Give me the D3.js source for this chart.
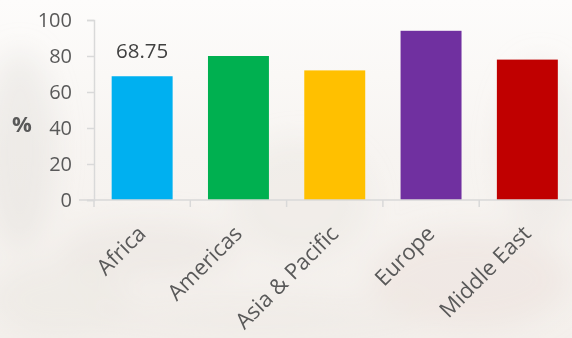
<!DOCTYPE html>
<html>
<head>
<meta charset="utf-8">
<script src="https://cdn.jsdelivr.net/npm/d3@7"></script>
<style>
  html, body { margin: 0; padding: 0; background: #fbfaf9; }
  svg { display: block; }
</style>
</head>
<body>
<svg id="chart" width="572" height="338"></svg>
<script>
// Share of respondents by region (%)
const regions = ["Africa", "Americas", "Asia & Pacific", "Europe", "Middle East"];
const values = [68.75, 80, 72, 94, 78];
const barColors = ["#00b0f0", "#00b050", "#ffc000", "#7030a0", "#c00000"];
const yTicks = [0, 20, 40, 60, 80, 100];
const labelledIndex = 0; // only the first bar carries a value label

const W = 572, H = 338;
const plotLeft = 94, plotRight = 575.5, plotTop = 20, plotBottom = 200;

const svg = d3.select("#chart");

// soft, washed-out backdrop
const defs = svg.append("defs");
defs.append("filter").attr("id", "haze")
  .attr("x", "-50%").attr("y", "-50%").attr("width", "200%").attr("height", "200%")
  .append("feGaussianBlur").attr("stdDeviation", 14);
const bgGrad = defs.append("linearGradient").attr("id", "bgGrad")
  .attr("x1", 0).attr("y1", 0).attr("x2", 0).attr("y2", 1);
bgGrad.append("stop").attr("offset", "0%").attr("stop-color", "#fdfcfb");
bgGrad.append("stop").attr("offset", "45%").attr("stop-color", "#f7f4f1");
bgGrad.append("stop").attr("offset", "100%").attr("stop-color", "#f4f0ec");
svg.append("rect").attr("width", W).attr("height", H).attr("fill", "url(#bgGrad)");

const blobs = [
  [20, 150, 35, 100, "#ddd9d4", 0.35],
  [150, 250, 90, 30, "#e0dbd5", 0.3],
  [300, 200, 70, 60, "#e5e0da", 0.3],
  [470, 280, 100, 50, "#e8dcd6", 0.4],
  [540, 150, 40, 90, "#e4dfd9", 0.3],
  [260, 320, 160, 25, "#ece7e2", 0.45],
  [60, 300, 70, 40, "#e6e2dd", 0.35]
];
const bg = svg.append("g").attr("filter", "url(#haze)");
blobs.forEach(b => {
  bg.append("ellipse").attr("cx", b[0]).attr("cy", b[1]).attr("rx", b[2]).attr("ry", b[3])
    .attr("fill", b[4]).attr("opacity", b[5]);
});

const x = d3.scaleBand().domain(regions).range([plotLeft, plotRight])
  .paddingInner(0.367).paddingOuter(0.1835);
const y = d3.scaleLinear().domain([0, 100]).range([plotBottom, plotTop]);

const font = "'Open Sans', sans-serif";
const axisColor = "#d9d9d9";
const textColor = "#595959";

// y axis
const yAxis = svg.append("g").attr("transform", `translate(${plotLeft},0)`)
  .call(d3.axisLeft(y).tickValues(yTicks).tickSize(7).tickPadding(15));
yAxis.select(".domain").attr("stroke", axisColor).attr("stroke-width", 1.5);
yAxis.selectAll(".tick line").attr("stroke", axisColor).attr("stroke-width", 1.5);
yAxis.selectAll(".tick text").attr("fill", textColor)
  .style("font-family", font).style("font-size", "20px");

// bars
svg.append("g").selectAll("rect").data(values).join("rect")
  .attr("x", (d, i) => x(regions[i]))
  .attr("y", d => y(d))
  .attr("width", x.bandwidth())
  .attr("height", d => y(0) - y(d))
  .attr("fill", (d, i) => barColors[i]);

// x axis line with ticks between categories
const xg = svg.append("g");
xg.append("line").attr("x1", plotLeft - 15).attr("x2", W)
  .attr("y1", plotBottom).attr("y2", plotBottom)
  .attr("stroke", axisColor).attr("stroke-width", 1.5);
const bounds = regions.map((r, i) => plotLeft + i * x.step());
xg.selectAll("line.tk").data(bounds).join("line").attr("class", "tk")
  .attr("x1", d => d).attr("x2", d => d)
  .attr("y1", plotBottom).attr("y2", plotBottom + 7)
  .attr("stroke", axisColor).attr("stroke-width", 1.5);

// rotated category labels
svg.append("g").selectAll("text").data(regions).join("text")
  .attr("transform", d => `translate(${x(d) + x.bandwidth() / 2 + 5},${plotBottom + 35}) rotate(-45)`)
  .attr("text-anchor", "end")
  .attr("fill", textColor)
  .style("font-family", font).style("font-size", "22px")
  .text(d => d);

// value label
svg.append("text")
  .attr("x", x(regions[labelledIndex]) + x.bandwidth() / 2)
  .attr("y", y(values[labelledIndex]) - 18)
  .attr("text-anchor", "middle")
  .attr("fill", "#404040")
  .style("font-family", font).style("font-size", "20.5px")
  .text(values[labelledIndex]);

// axis title
svg.append("text")
  .attr("x", 22).attr("y", 132)
  .attr("text-anchor", "middle")
  .attr("fill", textColor)
  .style("font-family", font).style("font-size", "22px").style("font-weight", "bold")
  .text("%");
</script>
</body>
</html>
